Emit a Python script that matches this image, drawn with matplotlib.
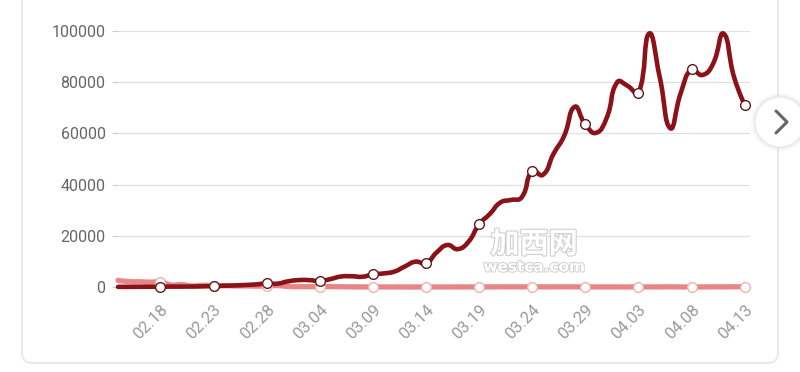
import matplotlib
matplotlib.use('Agg')
import matplotlib.pyplot as plt
import matplotlib.patheffects as pe
import numpy as np
import pandas as pd
from matplotlib.path import Path
from matplotlib.patches import PathPatch, FancyBboxPatch, Circle
from matplotlib.lines import Line2D
from matplotlib.transforms import IdentityTransform

# daily new cases, 02.14 - 04.13
dates = pd.date_range('2020-02-14', '2020-04-13', freq='D').strftime('%m.%d').tolist()

overseas = [50, 60, 80, 100, 120, 150, 150, 200, 250, 400,
            500, 600, 800, 1000, 1400, 1300, 2200, 2700, 2700, 2300,
            3100, 4100, 4200, 4000, 4950, 5300, 6000, 8000, 9900, 9300,
            13500, 16400, 14800, 17700, 24500, 28500, 33000, 34000, 35000, 45300,
            43800, 52000, 59000, 70400, 63500, 60200, 66000, 80000, 78500, 75600,
            99000, 82000, 62000, 76000, 85000, 82800, 87000, 99000, 82000, 71000]

china = [2600, 2100, 2050, 1900, 1950, 800, 900, 400, 650, 400,
         500, 400, 430, 330, 430, 570, 200, 125, 120, 140,
         140, 100, 45, 40, 20, 25, 15, 10, 10, 20,
         15, 20, 30, 35, 40, 45, 60, 70, 55, 80,
         50, 55, 70, 55, 45, 30, 40, 35, 30, 30,
         35, 40, 60, 30, 40, 30, 60, 50, 100, 80]

yticks = [0, 20000, 40000, 60000, 80000, 100000]

W, H = 800, 372
AX_L, AX_B, AX_W, AX_H = 118, 85, 632, 256
XMAX = 59.5
PX_DAY = AX_W / XMAX
PX_UNIT = AX_H / 100000


def smooth_path(xv, yv, smooth=0.5):
    # bezier through every point, control points measured in screen px
    pts = np.column_stack([np.asarray(xv, float) * PX_DAY,
                           np.asarray(yv, float) * PX_UNIT])
    n = len(pts)
    c_in = pts.copy()
    c_out = pts.copy()
    for i in range(1, n - 1):
        v = (pts[i + 1] - pts[i - 1]) * smooth
        d0 = np.hypot(*(pts[i] - pts[i - 1]))
        d1 = np.hypot(*(pts[i + 1] - pts[i]))
        s = d0 + d1
        if s == 0:
            continue
        c_in[i] = pts[i] - v * d0 / s
        c_out[i] = pts[i] + v * d1 / s
    verts = [pts[0]]
    codes = [Path.MOVETO]
    for i in range(n - 1):
        verts += [c_out[i], c_in[i + 1], pts[i + 1]]
        codes += [Path.CURVE4] * 3
    verts = np.array(verts) / [PX_DAY, PX_UNIT]
    return Path(verts, codes)


fig = plt.figure(figsize=(W / 100, H / 100), dpi=100)
fig.patch.set_facecolor('white')

# card
card = FancyBboxPatch((22, H - 363), 756, 400,
                      boxstyle='round,pad=0,rounding_size=10',
                      transform=IdentityTransform(), facecolor='white',
                      edgecolor='#e6e6e6', linewidth=1.2, zorder=0)
fig.add_artist(card)

ax = fig.add_axes([AX_L / W, AX_B / H, AX_W / W, AX_H / H])
ax.set_facecolor('none')
x = np.arange(len(dates))

ax.add_patch(PathPatch(smooth_path(x, china), fill=False, edgecolor='#e88585',
                       linewidth=3.8, capstyle='round', joinstyle='round',
                       zorder=3, clip_on=False))
ax.add_patch(PathPatch(smooth_path(x, overseas), fill=False, edgecolor='#8b1218',
                       linewidth=3.3, capstyle='round', joinstyle='round',
                       zorder=4, clip_on=False))

mk = x[4::5]
ax.plot(mk, np.array(china)[mk], linestyle='none', marker='o', markersize=7,
        markerfacecolor='white', markeredgecolor='#f0b2b2', markeredgewidth=1,
        zorder=5, clip_on=False)
ax.plot(mk, np.array(overseas)[mk], linestyle='none', marker='o', markersize=7,
        markerfacecolor='white', markeredgecolor='#5e1a1a', markeredgewidth=1,
        zorder=6, clip_on=False)

ax.set_xlim(0, XMAX)
ax.set_ylim(0, 100000)
ax.set_yticks(yticks)
ax.set_yticklabels([str(v) for v in yticks], fontsize=11.5, color='#666666',
                   family='Roboto')
ax.tick_params(axis='y', length=4, width=0.8, color='#cccccc', pad=5)
ax.set_xticks(mk)
ax.set_xticklabels([dates[i] for i in mk], rotation=45, ha='right',
                   rotation_mode='anchor', fontsize=12, color='#9a9a9a',
                   family='Roboto')
ax.tick_params(axis='x', length=0, pad=11)
ax.grid(axis='y', color='#e0e0e0', linewidth=0.9)
ax.set_axisbelow(True)
for sp in ax.spines.values():
    sp.set_visible(False)

# watermark
fig.text(534 / W, 1 - 244 / H, '加西网', ha='center', va='center', fontsize=21,
         fontweight='bold', color='white', family='Noto Sans CJK SC', zorder=10,
         path_effects=[pe.withStroke(linewidth=1.6, foreground='#cfcfcf')])
fig.text(534 / W, 1 - 267 / H, 'westca.com', ha='center', va='center',
         fontsize=11, fontweight='bold', color='white', family='DejaVu Sans',
         zorder=10, path_effects=[pe.withStroke(linewidth=1.4, foreground='#cfcfcf')])

# next button
for r, a in [(29, 0.05), (27, 0.07)]:
    fig.add_artist(Circle((780, H - 122), r, transform=IdentityTransform(),
                          facecolor='#888888', edgecolor='none', alpha=a, zorder=11))
fig.add_artist(Circle((780, H - 122), 25, transform=IdentityTransform(),
                      facecolor='white', edgecolor='#e8e8e8', linewidth=0.8, zorder=12))
fig.add_artist(Line2D([776, 787, 776], [H - 111, H - 122, H - 133],
                      transform=IdentityTransform(), color='#666666',
                      linewidth=2.2, solid_capstyle='round', zorder=13))

fig.savefig('out.png', dpi=100)
